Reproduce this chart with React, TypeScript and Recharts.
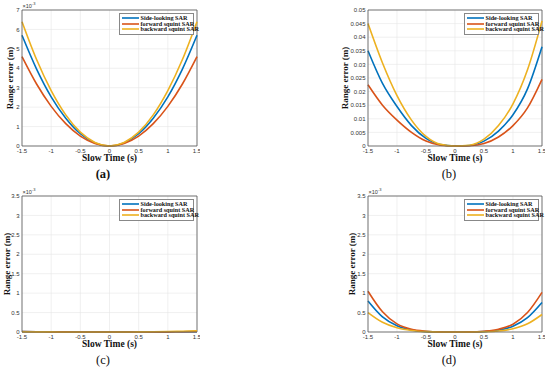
import React from 'react';
import { LineChart, Line, XAxis, YAxis, CartesianGrid, ReferenceLine, Legend } from 'recharts';

const slowTime = [-1.5, -1.25, -1, -0.75, -0.5, -0.25, 0, 0.25, 0.5, 0.75, 1, 1.25, 1.5];
const xTicks = [-1.5, -1, -0.5, 0, 0.5, 1, 1.5];
const seriesNames = ['Side-looking SAR', 'forward squint SAR', 'backward squint SAR'];
const seriesKeys = ['side', 'forward', 'backward'];
const seriesColors = ['#0072BD', '#D95319', '#EDB120'];

// (a) values in units of 1e-3 m
const aSide = [5.7, 3.96, 2.53, 1.43, 0.63, 0.16, 0, 0.16, 0.63, 1.43, 2.53, 3.96, 5.7];
const aForward = [4.6, 3.19, 2.04, 1.15, 0.51, 0.13, 0, 0.13, 0.51, 1.15, 2.04, 3.19, 4.6];
const aBackward = [6.4, 4.45, 2.85, 1.6, 0.71, 0.18, 0, 0.18, 0.71, 1.6, 2.85, 4.45, 6.4];
const aTicks = [0, 1, 2, 3, 4, 5, 6, 7];

// (b) values in m
const bSide = [0.035, 0.023, 0.0145, 0.0075, 0.0028, 0.0005, 0, 0.0002, 0.0018, 0.0055, 0.0115, 0.021, 0.0365];
const bForward = [0.0225, 0.015, 0.0095, 0.005, 0.0018, 0.0003, 0, 0.0001, 0.0009, 0.0033, 0.0075, 0.014, 0.0245];
const bBackward = [0.045, 0.0305, 0.0185, 0.0095, 0.0035, 0.0006, 0, 0.0003, 0.0025, 0.0075, 0.0155, 0.028, 0.046];
const bTicks = [0, 0.005, 0.01, 0.015, 0.02, 0.025, 0.03, 0.035, 0.04, 0.045, 0.05];

// (c) values in units of 1e-3 m
const cSide = [0.01, 0.006, 0.004, 0.002, 0.001, 0, 0, 0, 0.001, 0.002, 0.004, 0.006, 0.01];
const cForward = [0.012, 0.007, 0.004, 0.002, 0.001, 0, 0, 0, 0.001, 0.002, 0.004, 0.007, 0.012];
const cBackward = [0.006, 0.004, 0.002, 0.001, 0, 0, 0, 0.001, 0.002, 0.006, 0.012, 0.02, 0.03];
const cdTicks = [0, 0.5, 1, 1.5, 2, 2.5, 3, 3.5];

// (d) values in units of 1e-3 m
const dSide = [0.8, 0.39, 0.16, 0.05, 0.01, 0.001, 0, 0.001, 0.01, 0.045, 0.15, 0.37, 0.76];
const dForward = [1.05, 0.52, 0.21, 0.07, 0.02, 0.003, 0, 0.002, 0.02, 0.07, 0.2, 0.5, 1.02];
const dBackward = [0.5, 0.25, 0.11, 0.04, 0.01, 0.001, 0, 0.001, 0.006, 0.025, 0.085, 0.21, 0.45];

const build = (s: number[], f: number[], b: number[]) =>
  slowTime.map((t, i) => ({ t, side: s[i], forward: f[i], backward: b[i] }));

const tickStyle = { fontSize: 6, fill: '#333', fontFamily: 'Liberation Sans' };
const labelFont = { fontFamily: 'Liberation Serif', fontWeight: 'bold' as const };

const renderLegend = () => (
  <div style={{ border: '0.7px solid #888', background: '#fff', padding: '1.5px 2px', width: 75, boxSizing: 'border-box' }}>
    {seriesNames.map((name, i) => (
      <div key={name} style={{ display: 'flex', alignItems: 'center', height: 5.8 }}>
        <svg width={17} height={4} style={{ marginRight: 2, flexShrink: 0 }}>
          <line x1={0} y1={2} x2={17} y2={2} stroke={seriesColors[i]} strokeWidth={1.6} />
        </svg>
        <span style={{ ...labelFont, fontSize: 6.2, lineHeight: 1, whiteSpace: 'nowrap', color: '#111' }}>{name}</span>
      </div>
    ))}
  </div>
);

type PanelProps = {
  x: number; y: number; chartWidth: number; yAxisWidth: number; marginLeft: number;
  data: any[]; yMax: number; yTicks: number[]; exponent?: string;
  yLabelX: number; caption: string; captionX: number; captionBold?: boolean;
};

function Panel(p: PanelProps) {
  const plotLeft = p.x + p.marginLeft + p.yAxisWidth;
  const plotRight = p.x + p.chartWidth - 3;
  const plotTop = p.y + 10;
  const plotBottom = p.y + 146;
  const legendLeft = plotRight - 3.5 - 75 - p.x;
  return (
    <>
      <div style={{ position: 'absolute', left: p.x, top: p.y }}>
        <LineChart width={p.chartWidth} height={160} data={p.data} margin={{ top: 10, right: 3, bottom: 0, left: p.marginLeft }}>
          <CartesianGrid stroke="#e6e6e6" strokeWidth={0.6} />
          <XAxis dataKey="t" type="number" domain={[-1.5, 1.5]} ticks={xTicks} interval={0} height={14}
            tick={tickStyle} tickLine={false} tickSize={0} tickMargin={3} axisLine={{ stroke: '#555', strokeWidth: 0.8 }} />
          <YAxis type="number" domain={[0, p.yMax]} ticks={p.yTicks} interval={0} width={p.yAxisWidth}
            tick={tickStyle} tickLine={false} tickSize={0} tickMargin={2.5} axisLine={{ stroke: '#555', strokeWidth: 0.8 }} />
          <ReferenceLine y={p.yMax} stroke="#555" strokeWidth={0.8} />
          <ReferenceLine x={1.5} stroke="#555" strokeWidth={0.8} />
          <Legend layout="horizontal" verticalAlign="middle" align="center" content={renderLegend}
            wrapperStyle={{ left: legendLeft, top: 12.5, width: 'auto', height: 'auto', bottom: 'auto', right: 'auto' }} />
          {seriesKeys.map((k, i) => (
            <Line key={k} dataKey={k} name={seriesNames[i]} type="monotone" stroke={seriesColors[i]}
              strokeWidth={1.6} dot={false} isAnimationActive={false} />
          ))}
        </LineChart>
      </div>
      {p.exponent && (
        <div style={{ position: 'absolute', left: plotLeft + 0.5, top: plotTop - 8.5, fontFamily: 'Liberation Sans', fontSize: 5.5, color: '#333', lineHeight: 1, whiteSpace: 'nowrap' }}>
          ×10<sup style={{ fontSize: 4, verticalAlign: 'super' }}>{p.exponent}</sup>
        </div>
      )}
      <div style={{ position: 'absolute', left: p.yLabelX, top: (plotTop + plotBottom) / 2, transform: 'translate(-50%, -50%) rotate(-90deg)', ...labelFont, fontSize: 9, lineHeight: 1, whiteSpace: 'nowrap', color: '#111' }}>
        Range error (m)
      </div>
      <div style={{ position: 'absolute', left: (plotLeft + plotRight) / 2, top: plotBottom + 13, transform: 'translate(-50%, -50%)', ...labelFont, fontSize: 9.5, lineHeight: 1, whiteSpace: 'nowrap', color: '#111' }}>
        Slow Time (s)
      </div>
      <div style={{ position: 'absolute', left: p.captionX, top: plotBottom + 28, transform: 'translate(-50%, -50%)', fontFamily: 'Liberation Serif', fontWeight: p.captionBold ? 'bold' : 'normal', fontSize: 12.5, lineHeight: 1, whiteSpace: 'nowrap', color: '#111' }}>
        {p.caption}
      </div>
    </>
  );
}

export default function App() {
  return (
    <div style={{ position: 'absolute', left: 0, top: 0, width: 550, height: 371, background: '#fff', overflow: 'hidden' }}>
      <Panel x={0} y={0} chartWidth={200} yAxisWidth={22} marginLeft={0} data={build(aSide, aForward, aBackward)}
        yMax={7} yTicks={aTicks} exponent="-3" yLabelX={10} caption="(a)" captionX={103} captionBold />
      <Panel x={275} y={0} chartWidth={270} yAxisWidth={30} marginLeft={63} data={build(bSide, bForward, bBackward)}
        yMax={0.05} yTicks={bTicks} yLabelX={345} caption="(b)" captionX={449} />
      <Panel x={0} y={186} chartWidth={200} yAxisWidth={22} marginLeft={0} data={build(cSide, cForward, cBackward)}
        yMax={3.5} yTicks={cdTicks} exponent="-3" yLabelX={7} caption="(c)" captionX={103} />
      <Panel x={275} y={186} chartWidth={270} yAxisWidth={30} marginLeft={63} data={build(dSide, dForward, dBackward)}
        yMax={3.5} yTicks={cdTicks} exponent="-3" yLabelX={352} caption="(d)" captionX={449} />
    </div>
  );
}
